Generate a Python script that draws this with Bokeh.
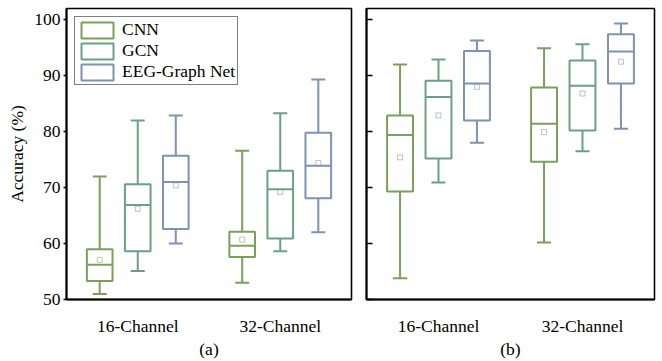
from bokeh.plotting import figure
from bokeh.models import FactorRange, Range1d, ColumnDataSource, Legend, LegendItem, FixedTicker
from bokeh.transform import dodge
from bokeh.layouts import row
from bokeh.embed import file_html
from bokeh.resources import INLINE

categories = ["16-Channel", "32-Channel"]
models = ["CNN", "GCN", "EEG-Graph Net"]
colors = ["#7BA05B", "#6BA088", "#7E92B2"]
y_ticks = [50, 60, 70, 80, 90, 100]

# Panel (a)
a_low = {"CNN": [51.0, 53.0], "GCN": [55.1, 58.6], "EEG-Graph Net": [60.0, 62.0]}
a_q1 = {"CNN": [53.3, 57.6], "GCN": [58.6, 60.9], "EEG-Graph Net": [62.6, 68.1]}
a_med = {"CNN": [56.2, 59.6], "GCN": [66.9, 69.7], "EEG-Graph Net": [71.0, 73.9]}
a_q3 = {"CNN": [59.0, 62.1], "GCN": [70.6, 73.0], "EEG-Graph Net": [75.7, 79.8]}
a_high = {"CNN": [72.0, 76.6], "GCN": [82.0, 83.3], "EEG-Graph Net": [82.9, 89.3]}
a_mean = {"CNN": [57.1, 60.7], "GCN": [66.2, 69.2], "EEG-Graph Net": [70.4, 74.4]}

# Panel (b)
b_low = {"CNN": [53.8, 60.2], "GCN": [70.9, 76.5], "EEG-Graph Net": [78.0, 80.5]}
b_q1 = {"CNN": [69.3, 74.6], "GCN": [75.2, 80.2], "EEG-Graph Net": [82.0, 88.6]}
b_med = {"CNN": [79.4, 81.4], "GCN": [86.2, 88.2], "EEG-Graph Net": [88.6, 94.3]}
b_q3 = {"CNN": [82.9, 87.9], "GCN": [89.1, 92.7], "EEG-Graph Net": [94.4, 97.4]}
b_high = {"CNN": [92.0, 94.9], "GCN": [92.9, 95.6], "EEG-Graph Net": [96.3, 99.3]}
b_mean = {"CNN": [75.4, 79.9], "GCN": [82.9, 86.8], "EEG-Graph Net": [88.0, 92.5]}

FONT = "Liberation Serif"
FS = "17.5px"
offsets = [-0.267, 0.0, 0.267]
box_w = 0.18
cap_half = 0.049


def panel(low, q1, med, q3, high, mean, label, left_panel, width, bl, br):
    p = figure(width=width, height=361, x_range=FactorRange(*categories, range_padding=0),
               y_range=Range1d(50, 102), output_backend="svg", toolbar_location=None,
               min_border_left=bl, min_border_right=br, min_border_top=8, min_border_bottom=52)
    p.xgrid.visible = False
    p.ygrid.visible = False
    p.outline_line_color = "black"
    p.outline_line_width = 1.6
    p.background_fill_color = "white"
    p.border_fill_color = "white"
    items = []
    for m, c, off in zip(models, colors, offsets):
        src = ColumnDataSource(dict(cat=categories, low=low[m], q1=q1[m], med=med[m],
                                    q3=q3[m], high=high[m], mean=mean[m]))
        xc = dodge("cat", off, range=p.x_range)
        xl = dodge("cat", off - box_w / 2, range=p.x_range)
        xr = dodge("cat", off + box_w / 2, range=p.x_range)
        cl = dodge("cat", off - cap_half, range=p.x_range)
        cr = dodge("cat", off + cap_half, range=p.x_range)
        p.segment(x0=xc, y0="q3", x1=xc, y1="high", source=src, line_color=c, line_width=2)
        p.segment(x0=xc, y0="low", x1=xc, y1="q1", source=src, line_color=c, line_width=2)
        p.segment(x0=cl, y0="high", x1=cr, y1="high", source=src, line_color=c, line_width=2)
        p.segment(x0=cl, y0="low", x1=cr, y1="low", source=src, line_color=c, line_width=2)
        r = p.vbar(x=xc, width=box_w, bottom="q1", top="q3", source=src,
                   fill_color="white", line_color=c, line_width=2)
        p.segment(x0=xl, y0="med", x1=xr, y1="med", source=src, line_color=c, line_width=2)
        p.scatter(x=xc, y="mean", source=src, marker="square", size=5, fill_color=None,
                  line_color=c, line_alpha=0.55, line_width=1)
        items.append(LegendItem(label=m, renderers=[r]))

    xa = p.xaxis[0]
    xa.axis_label = label
    xa.axis_label_text_font = FONT
    xa.axis_label_text_font_size = FS
    xa.axis_label_text_font_style = "normal"
    xa.axis_label_text_color = "black"
    xa.axis_label_standoff = 0
    xa.major_label_text_font = FONT
    xa.major_label_text_font_size = FS
    xa.major_label_text_color = "black"
    xa.major_label_standoff = 10
    xa.major_tick_line_color = None
    xa.minor_tick_line_color = None
    xa.axis_line_color = "black"
    xa.axis_line_width = 2
    xa.group_text_font_size = "0px"

    ya = p.yaxis[0]
    ya.ticker = FixedTicker(ticks=y_ticks)
    ya.minor_tick_line_color = None
    ya.axis_line_color = "black"
    ya.axis_line_width = 2
    ya.major_tick_line_color = "black"
    ya.major_tick_line_width = 1.5
    if left_panel:
        ya.major_tick_in = 0
        ya.major_tick_out = 3
        ya.major_label_text_font = FONT
        ya.major_label_text_font_size = FS
        ya.major_label_text_color = "black"
        ya.major_label_standoff = 3
        ya.axis_label = "Accuracy (%)"
        ya.axis_label_text_font = FONT
        ya.axis_label_text_font_size = FS
        ya.axis_label_text_font_style = "normal"
        ya.axis_label_text_color = "black"
        ya.axis_label_standoff = 4
        leg = Legend(items=items, location="top_left")
        leg.label_text_font = FONT
        leg.label_text_font_size = FS
        leg.label_text_color = "black"
        leg.glyph_width = 40
        leg.glyph_height = 20
        leg.label_height = 20
        leg.spacing = 0
        leg.padding = 2
        leg.margin = 8
        leg.label_standoff = 5
        leg.border_line_color = "black"
        leg.border_line_width = 1.5
        leg.background_fill_alpha = 1
        p.add_layout(leg)
    else:
        ya.major_tick_in = 6
        ya.major_tick_out = 0
        ya.major_label_text_font_size = "0px"
        ya.major_label_text_color = None
    return p


pa = panel(a_low, a_q1, a_med, a_q3, a_high, a_mean, "(a)", True, 358, 66, 7)
pb = panel(b_low, b_q1, b_med, b_q3, b_high, b_mean, "(b)", False, 304, 8, 8)
layout = row(pa, pb, spacing=0)

open("out.html", "w").write(file_html(layout, INLINE))
